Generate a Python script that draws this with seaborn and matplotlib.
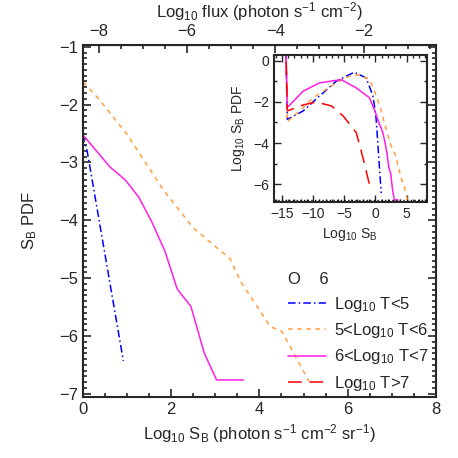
"""S_B PDF for O 6 split by gas temperature, with a log-log inset"""

import matplotlib
matplotlib.use("Agg")
import matplotlib.pyplot as plt
from matplotlib.ticker import MultipleLocator
import seaborn as sns
import pandas as pd

# values (log10 S_B, log10 PDF)
blue_x = [-14.4, -14.15, -11.6, -9.0, -6.3, -3.4, -1.5, -0.4, 0.0, 0.1, 0.92]
blue_y = [1.0, -2.85, -2.44, -1.72, -1.0, -0.56, -0.84, -1.72, -2.55, -2.8, -6.43]

orange_x = [-14.4, -14.15, -11.6, -10.0, -6.3, -4.15, -2.56, -0.96, 0.0, 0.35,
            1.0, 1.83, 2.5, 3.0, 3.34, 3.57, 4.25, 4.51, 5.12]
orange_y = [1.0, -2.96, -2.28, -1.8, -1.08, -0.75, -0.68, -0.92, -1.6, -1.89,
            -2.51, -3.48, -4.13, -4.45, -4.67, -5.05, -5.84, -5.92, -6.78]

magenta_x = [-14.4, -14.15, -11.6, -9.0, -5.5, -3.1, -0.96, 0.0, 0.62, 0.96,
             1.26, 1.56, 1.86, 2.14, 2.45, 2.75, 3.03, 3.64]
magenta_y = [1.0, -2.28, -1.48, -1.08, -0.92, -1.32, -1.8, -2.52, -3.08, -3.3,
             -3.59, -4.02, -4.53, -5.19, -5.49, -6.29, -6.76, -6.76]

red_x = [-14.4, -14.15, -11.6, -9.5, -7.05, -5.17, -3.09, -2.02, -0.96]
red_y = [1.0, -2.44, -2.15, -2.01, -2.2, -2.69, -3.49, -4.7, -6.02]

labels = ["Log$_{10}$ T<5", "5<Log$_{10}$ T<6", "6<Log$_{10}$ T<7", "Log$_{10}$ T>7"]
colors = ["#0000ff", "#ffa040", "#ff1ee6", "#ff0000"]
dashes = [(5, 2, 1, 2), (3, 3), "", (9, 5)]

floor_value = -6.76      # dotted floor line in the inset
flux_offset = 8.36       # log10 flux = log10 S_B - offset

frames = []
for lab, xs, ys in zip(labels,
                       [blue_x, orange_x, magenta_x, red_x],
                       [blue_y, orange_y, magenta_y, red_y]):
    frames.append(pd.DataFrame({"logS": xs, "pdf": ys, "temp": lab}))
df = pd.concat(frames, ignore_index=True)

sns.set_style("ticks")
plt.rcParams["font.family"] = ["Liberation Sans", "DejaVu Sans"]
plt.rcParams["mathtext.default"] = "regular"
plt.rcParams["xtick.direction"] = "in"
plt.rcParams["ytick.direction"] = "in"

palette = dict(zip(labels, colors))
dash_map = dict(zip(labels, dashes))

fig = plt.figure(figsize=(4.58, 4.58), dpi=100)
ax = fig.add_axes([0.1806, 0.1338, 0.7714, 0.7679])

sns.lineplot(data=df, x="logS", y="pdf", hue="temp", style="temp",
             palette=palette, dashes=dash_map, hue_order=labels,
             style_order=labels, estimator=None, sort=True, lw=1.1, ax=ax)

ax.set_xlim(0, 8)
ax.set_ylim(-7.05, -0.97)
ax.xaxis.set_major_locator(MultipleLocator(2))
ax.xaxis.set_minor_locator(MultipleLocator(0.5))
ax.yaxis.set_major_locator(MultipleLocator(1))
ax.yaxis.set_minor_locator(MultipleLocator(0.1))
ax.tick_params(which="both", right=True, top=False, labelsize=12, width=1.2)
ax.tick_params(which="major", length=6)
ax.tick_params(which="minor", length=3)
ax.set_xlabel("Log$_{10}$ S$_B$ (photon s$^{-1}$ cm$^{-2}$ sr$^{-1}$)", fontsize=12)
ax.set_ylabel("S$_B$ PDF", fontsize=12, labelpad=14)
for sp in ax.spines.values():
    sp.set_linewidth(1.5)

top = ax.secondary_xaxis("top", functions=(lambda v: v - flux_offset,
                                           lambda v: v + flux_offset))
top.xaxis.set_major_locator(MultipleLocator(2))
top.xaxis.set_minor_locator(MultipleLocator(0.5))
top.tick_params(which="both", direction="in", labelsize=12, width=1.2, pad=4)
top.tick_params(which="major", length=6)
top.tick_params(which="minor", length=3)
top.set_xlabel("Log$_{10}$ flux (photon s$^{-1}$ cm$^{-2}$)", fontsize=12,
               labelpad=5)

handles, _ = ax.get_legend_handles_labels()
ax.legend(handles=handles, labels=labels, title="O    6", loc="upper left",
          bbox_to_anchor=(0.628, 1 - 272 / 458), bbox_transform=fig.transFigure,
          frameon=False, fontsize=12, title_fontsize=12, handlelength=2.3,
          handletextpad=0.5, labelspacing=0.45, borderpad=0, borderaxespad=0,
          alignment="left")

# inset with the full range
ins = fig.add_axes([0.598, 0.559, 0.3334, 0.3203])
sns.lineplot(data=df, x="logS", y="pdf", hue="temp", style="temp",
             palette=palette, dashes=dash_map, hue_order=labels,
             style_order=labels, estimator=None, sort=True, lw=1.1,
             legend=False, ax=ins)
ins.axhline(floor_value, color="black", ls=":", lw=1.0)
ins.set_xlim(-16.3, 8.2)
ins.set_ylim(-6.86, 0.26)
ins.xaxis.set_major_locator(MultipleLocator(5))
ins.xaxis.set_minor_locator(MultipleLocator(1))
ins.yaxis.set_major_locator(MultipleLocator(2))
ins.yaxis.set_minor_locator(MultipleLocator(1))
ins.tick_params(which="both", top=True, right=True, labelsize=10, width=1.0)
ins.tick_params(which="major", length=5)
ins.tick_params(which="minor", length=2.5)
ins.set_xlabel("Log$_{10}$ S$_B$", fontsize=10)
ins.set_ylabel("Log$_{10}$ S$_B$ PDF", fontsize=10)
for sp in ins.spines.values():
    sp.set_linewidth(1.5)

fig.savefig("out.png", dpi=100)
